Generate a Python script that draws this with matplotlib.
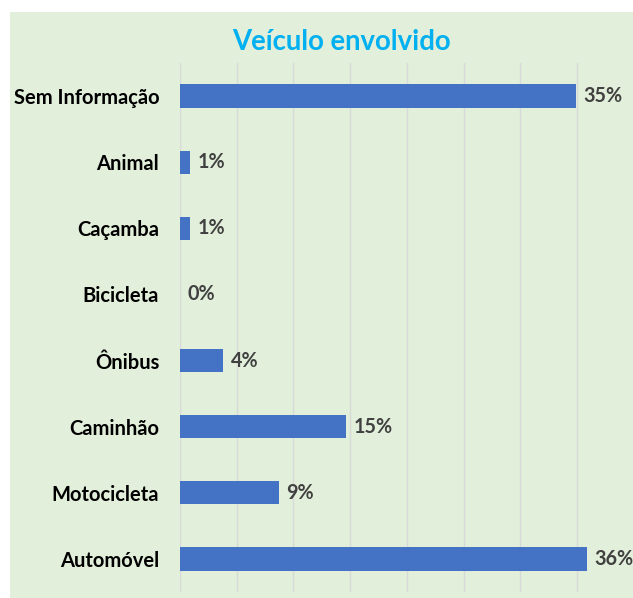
import matplotlib
matplotlib.use("Agg")
import matplotlib.pyplot as plt
from matplotlib.patches import Rectangle

categories = ["Sem Informação", "Animal", "Caçamba", "Bicicleta", "Ônibus",
              "Caminhão", "Motocicleta", "Automóvel"]
values = [34.9, 0.9, 0.9, 0.0, 3.8, 14.6, 8.7, 35.9]
labels = ["35%", "1%", "1%", "0%", "4%", "15%", "9%", "36%"]
title = "Veículo envolvido"

W, H = 633, 598
fig = plt.figure(figsize=(W / 100, H / 100), dpi=100)
fig.patch.set_facecolor("white")
bg = Rectangle((10 / W, 0), 1 - 10 / W, 1 - 12 / H, transform=fig.transFigure,
               facecolor="#E2EFDA", edgecolor="none", zorder=-10)
fig.patches.append(bg)

ax = fig.add_axes([180 / W, 6 / H, (W - 180) / W, (592 - 63) / H])
ax.set_zorder(1)
ax.set_facecolor("none")
ypos = list(range(len(categories)))
ax.barh(ypos, values, height=0.35, color="#4472C4", edgecolor="none",
        linewidth=0, zorder=3)
ax.set_ylim(len(categories) - 0.5, -0.5)
ax.set_xlim(0, (W - 180) / 11.34)
ax.set_xticks([0, 5, 10, 15, 20, 25, 30, 35])
ax.grid(axis="x", color="#D9D9D9", linewidth=1.0, zorder=0)
ax.set_yticks(ypos)
ax.set_yticklabels(categories, fontfamily="Lato", fontweight="bold",
                   fontsize=14.5, color="black")
ax.tick_params(axis="x", bottom=False, labelbottom=False)
ax.tick_params(axis="y", left=False, length=0, pad=15)
for s in ax.spines.values():
    s.set_visible(False)

for y, v, lab in zip(ypos, values, labels):
    ax.annotate(lab, xy=(v, y), xytext=(5.5, 0), textcoords="offset points",
                va="center", ha="left", fontfamily="Lato", fontweight="bold",
                fontsize=14.2, color="#404040")

fig.text(341 / W, 1 - 42 / H, title, ha="center", va="center",
         fontfamily="Lato", fontweight="bold", fontsize=19.8, color="#00B0F0")

fig.savefig("out.png", dpi=100)
